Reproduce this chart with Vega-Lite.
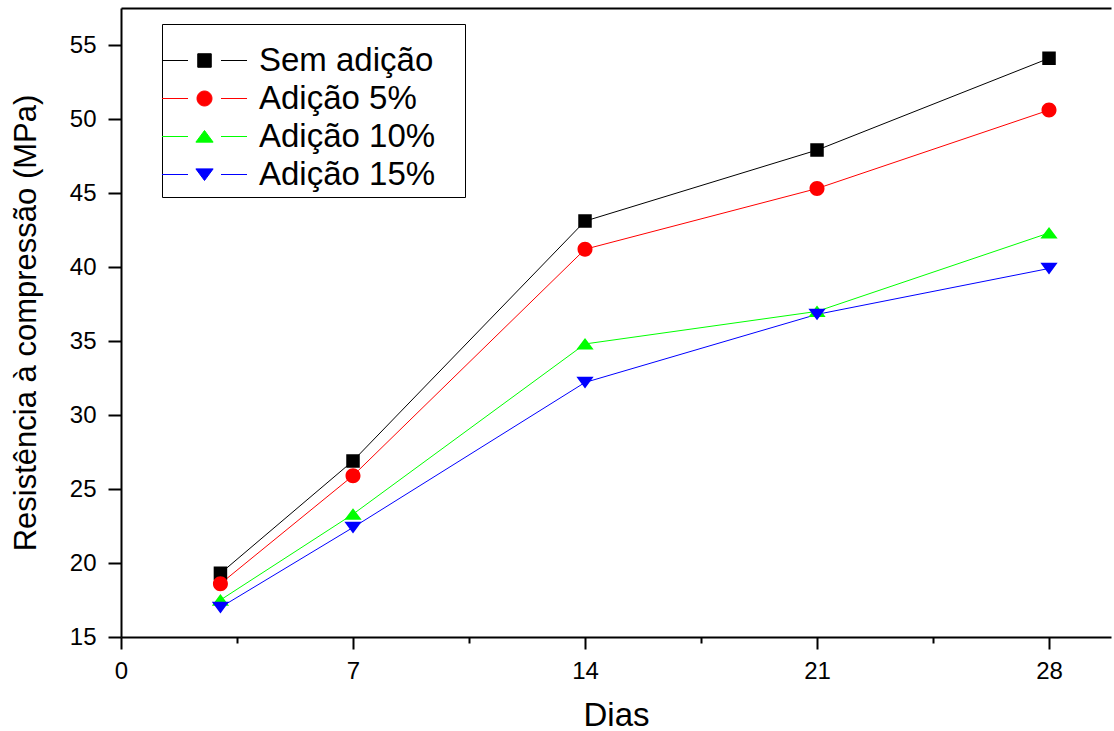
{
  "$schema": "https://vega.github.io/schema/vega-lite/v6.json",
  "width": 990,
  "height": 629,
  "autosize": "none",
  "padding": {"left": 121, "top": 8, "right": 3, "bottom": 94},
  "background": "white",
  "config": {"view": {"stroke": null}, "font": "Liberation Sans"},
  "data": {
    "values": [
      {"dia": 3, "serie": "Sem adição", "valor": 19.3},
      {"dia": 7, "serie": "Sem adição", "valor": 26.9},
      {"dia": 14, "serie": "Sem adição", "valor": 43.1},
      {"dia": 21, "serie": "Sem adição", "valor": 47.9},
      {"dia": 28, "serie": "Sem adição", "valor": 54.1},
      {"dia": 3, "serie": "Adição 5%", "valor": 18.6},
      {"dia": 7, "serie": "Adição 5%", "valor": 25.9},
      {"dia": 14, "serie": "Adição 5%", "valor": 41.2},
      {"dia": 21, "serie": "Adição 5%", "valor": 45.3},
      {"dia": 28, "serie": "Adição 5%", "valor": 50.6},
      {"dia": 3, "serie": "Adição 10%", "valor": 17.5},
      {"dia": 7, "serie": "Adição 10%", "valor": 23.3},
      {"dia": 14, "serie": "Adição 10%", "valor": 34.8},
      {"dia": 21, "serie": "Adição 10%", "valor": 37.0},
      {"dia": 28, "serie": "Adição 10%", "valor": 42.3},
      {"dia": 3, "serie": "Adição 15%", "valor": 17.0},
      {"dia": 7, "serie": "Adição 15%", "valor": 22.4},
      {"dia": 14, "serie": "Adição 15%", "valor": 32.2},
      {"dia": 21, "serie": "Adição 15%", "valor": 36.8},
      {"dia": 28, "serie": "Adição 15%", "valor": 39.9}
    ]
  },
  "resolve": {"axis": {"x": "independent"}},
  "layer": [
    {
      "mark": {"type": "line", "strokeWidth": 1},
      "encoding": {
        "x": {
          "field": "dia", "type": "quantitative",
          "scale": {"domain": [0, 29.87], "nice": false, "zero": false},
          "axis": {
            "values": [0, 3.5, 7, 10.5, 14, 17.5, 21, 24.5, 28],
            "labelExpr": "datum.value % 7 === 0 ? format(datum.value, 'd') : ''",
            "tickSize": {"condition": {"test": "datum.value % 7 === 0", "value": 12}, "value": 6},
            "tickWidth": 2, "tickColor": "black",
            "domainColor": "black", "domainWidth": 2,
            "labelFontSize": 24, "labelColor": "black", "labelPadding": 10,
            "labelFlush": false, "labelOverlap": false, "grid": false,
            "title": "Dias", "titleFontSize": 33, "titleFontWeight": "normal",
            "titleColor": "black", "titlePadding": 16
          }
        },
        "y": {
          "field": "valor", "type": "quantitative",
          "scale": {"domain": [15, 57.5], "nice": false, "zero": false},
          "axis": {
            "values": [15, 17.5, 20, 22.5, 25, 27.5, 30, 32.5, 35, 37.5, 40, 42.5, 45, 47.5, 50, 52.5, 55],
            "labelExpr": "datum.value % 5 === 0 ? format(datum.value, 'd') : ''",
            "tickSize": {"condition": {"test": "datum.value % 5 === 0", "value": 13}, "value": 7},
            "tickWidth": 2, "tickColor": "black",
            "domainColor": "black", "domainWidth": 2,
            "labelFontSize": 24, "labelColor": "black", "labelPadding": 12,
            "labelFlush": false, "labelOverlap": false, "grid": false,
            "title": "Resistência à compressão (MPa)", "titleFontSize": 31,
            "titleFontWeight": "normal", "titleColor": "black", "titlePadding": 27
          }
        },
        "color": {
          "field": "serie", "type": "nominal",
          "scale": {"domain": ["Sem adição", "Adição 5%", "Adição 10%", "Adição 15%"], "range": ["#000000", "#ff0000", "#00ff00", "#0000ff"]},
          "legend": {
            "orient": "none", "legendX": 41, "legendY": 16,
            "title": " ", "titleFontSize": 4, "titlePadding": 11,
            "strokeColor": "black", "fillColor": "white",
            "padding": 5,
            "symbolSize": 225, "symbolOffset": 21, "symbolStrokeWidth": 1,
            "labelOffset": 38, "labelFontSize": 33, "labelColor": "black", "labelFont": "Liberation Sans",
            "labelLimit": 400,
            "labelExpr": "datum.label + '\u2800'",
            "rowPadding": 4
          }
        }
      }
    },
    {
      "mark": {"type": "point", "filled": true, "strokeWidth": 0, "size": 225, "opacity": 1},
      "encoding": {
        "x": {
          "field": "dia", "type": "quantitative",
          "axis": {"orient": "top", "labels": false, "ticks": false, "title": null, "grid": false, "domainColor": "black", "domainWidth": 2}
        },
        "y": {"field": "valor", "type": "quantitative"},
        "color": {"field": "serie", "type": "nominal"},
        "shape": {
          "field": "serie", "type": "nominal",
          "scale": {
            "domain": ["Sem adição", "Adição 5%", "Adição 10%", "Adição 15%"],
            "range": [
              "M-5.67,0H-2.2M2.2,0H5.67M-0.9,-0.9H0.9V0.9H-0.9Z",
              "M-5.67,0H-2.2M2.2,0H5.67M-1,0A1,1 0 1,1 1,0A1,1 0 1,1 -1,0Z",
              "M-5.67,0H-2.2M2.2,0H5.67M0,-0.8L1.15,0.75L-1.15,0.75Z",
              "M-5.67,0H-2.2M2.2,0H5.67M0,0.8L1.15,-0.75L-1.15,-0.75Z"
            ]
          }
        }
      }
    }
  ]
}
